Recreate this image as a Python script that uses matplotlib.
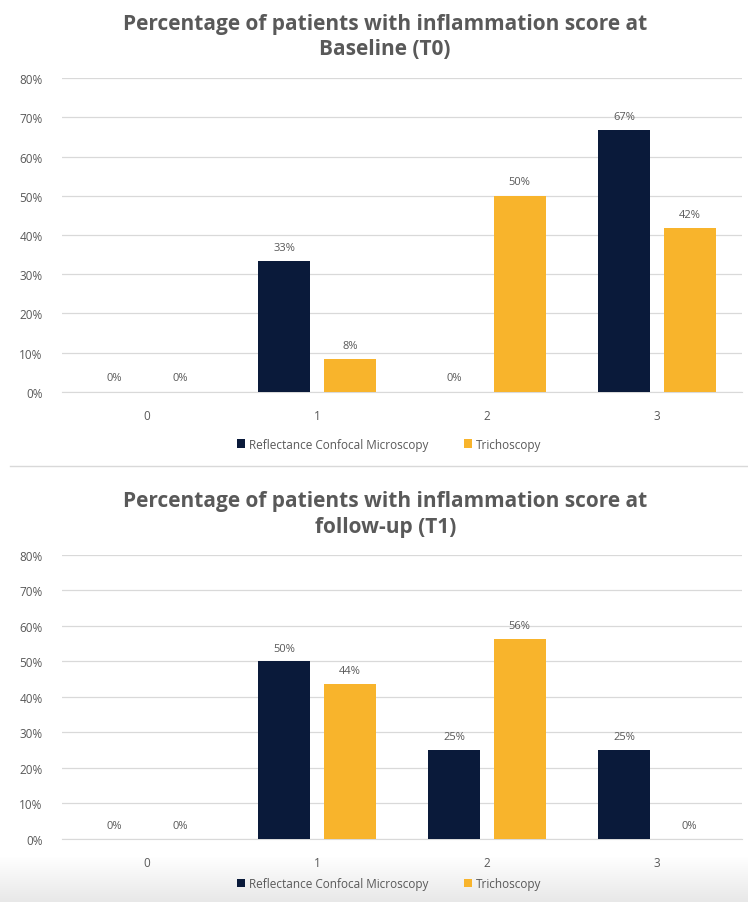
import numpy as np
import matplotlib
matplotlib.use('Agg')
import matplotlib.pyplot as plt
from matplotlib.ticker import FuncFormatter

plt.rcParams['font.family'] = ['Open Sans', 'DejaVu Sans']

scores = ['0', '1', '2', '3']
series = ['Reflectance Confocal Microscopy', 'Trichoscopy']
t0_rcm = [0, 33.3, 0, 66.7]
t0_tri = [0, 8.3, 50, 41.7]
t1_rcm = [0, 50, 25, 25]
t1_tri = [0, 43.75, 56.25, 0]
titles = ['Percentage of patients with inflammation score at\nBaseline (T0)',
          'Percentage of patients with inflammation score at\nfollow-up (T1)']

navy = '#0a1a3a'
gold = '#f8b42c'
grey = '#595959'

fig = plt.figure(figsize=(7.48, 9.03), dpi=100)
fig.patch.set_facecolor('white')

# soft grey band along the bottom edge
band = fig.add_axes([0, 0, 1, 0.05], zorder=0)
shade = np.linspace(1.0, 0.91, 60)
band.imshow(np.stack([shade] * 3, axis=-1).reshape(-1, 1, 3),
            aspect='auto', extent=[0, 1, 0, 1])
band.axis('off')

# axes boxes in figure fractions (left, bottom, width, height)
boxes = [[0.083, 0.5648, 0.909, 0.3477], [0.083, 0.0698, 0.909, 0.3145]]
title_y = [0.985, 0.456]
leg_y = [0.507, 0.02]

x = np.arange(len(scores))
w = 0.305
for k, (rcm, tri) in enumerate([(t0_rcm, t0_tri), (t1_rcm, t1_tri)]):
    ax = fig.add_axes(boxes[k], zorder=2)
    ax.patch.set_alpha(0)
    b1 = ax.bar(x - w / 2 - 0.04, rcm, w, color=navy, label=series[0], zorder=3)
    b2 = ax.bar(x + w / 2 + 0.04, tri, w, color=gold, label=series[1], zorder=3)
    for bars, vals in [(b1, rcm), (b2, tri)]:
        for b, v in zip(bars, vals):
            ax.text(b.get_x() + b.get_width() / 2, v + 2.2, '%d%%' % round(v),
                    ha='center', va='bottom', fontsize=8, color=grey)
    ax.set_xlim(-0.5, 3.5)
    ax.set_ylim(0, 80)
    ax.set_yticks(range(0, 81, 10))
    ax.yaxis.set_major_formatter(FuncFormatter(lambda v, p: '%d%%' % v))
    ax.set_xticks(x)
    ax.set_xticklabels(scores)
    ax.grid(axis='y', color='#d9d9d9', linewidth=0.9, zorder=0)
    for s in ['top', 'right', 'left']:
        ax.spines[s].set_visible(False)
    ax.spines['bottom'].set_color('#d9d9d9')
    ax.tick_params(length=0, labelsize=8.5, colors=grey, pad=12)
    ax.tick_params(axis='y', pad=14)
    fig.text(0.515, title_y[k], titles[k], ha='center', va='top', fontsize=15,
             fontweight='bold', color=grey, linespacing=1.3)
    fig.legend(handles=[b1, b2], loc='center', bbox_to_anchor=(0.52, leg_y[k]),
               ncol=2, frameon=False, fontsize=8.5, handlelength=0.7,
               handleheight=0.7, columnspacing=3.0, handletextpad=0.3,
               labelcolor=grey)

# separator between the two charts
fig.add_artist(plt.Line2D([0.013, 1.0], [0.483, 0.483], color='#d9d9d9', linewidth=1))

plt.savefig('out.png', dpi=100)
